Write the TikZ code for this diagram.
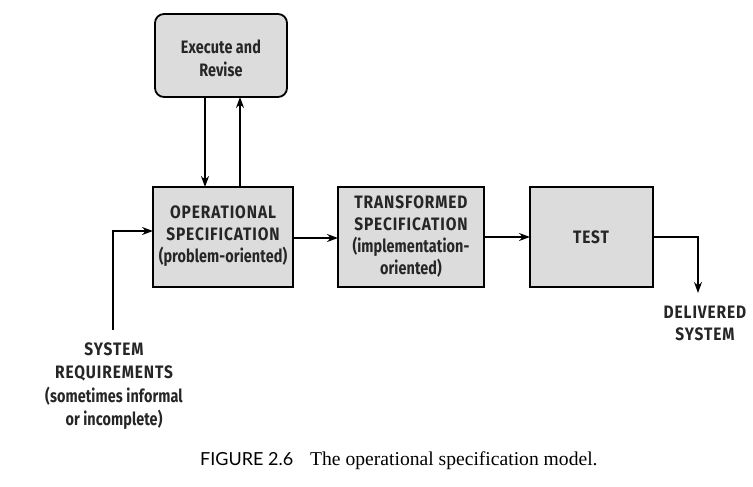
\documentclass[tikz,border=0pt]{standalone}
\usepackage{fontspec}
\setmainfont{Liberation Serif}
\newfontfamily\handfont[FakeStretch=0.86,LetterSpace=5]{Fira Sans}
\newfontfamily\lowfont[FakeStretch=0.8,LetterSpace=0.5]{Fira Sans}
\newfontfamily\capfont{Lato}
\usetikzlibrary{arrows.meta}
\definecolor{boxgray}{HTML}{DCDCDC}
\begin{document}
\begin{tikzpicture}[x=1pt,y=-1pt,
  box/.style={draw=black,line width=1.8pt,fill=boxgray,inner sep=0pt},
  lbl/.style={font=\handfont\bfseries\fontsize{18}{22}\selectfont,align=center,text=black!85},
  conn/.style={line width=1.6pt,-{Stealth[length=11pt,width=8pt]}}]
\useasboundingbox (0,0) rectangle (753,487);
% boxes
\draw[box,rounded corners=9pt] (155,14) rectangle (287,97);
\node[lbl,font=\lowfont\bfseries\fontsize{18}{23}\selectfont] (exec) at (221,58) {Execute and\\Revise};
\draw[box] (153,187) rectangle (293,287);
\node[lbl] (op) at (223,236) {OPERATIONAL\\SPECIFICATION\\{\lowfont\bfseries(problem-oriented)}};
\draw[box] (338,187) rectangle (484,287);
\node[lbl] (tr) at (411,237) {TRANSFORMED\\SPECIFICATION\\{\lowfont\bfseries(implementation-}\\{\lowfont\bfseries oriented)}};
\draw[box] (530,187) rectangle (653,287);
\node[lbl] (test) at (591,237) {TEST};
% coordinates for connectors
\coordinate (e1) at (205,97); \coordinate (o1) at (205,187);
\coordinate (e2) at (240,97); \coordinate (o2) at (240,187);
\coordinate (opR) at (293,238); \coordinate (trL) at (338,238);
\coordinate (trR) at (484,237); \coordinate (teL) at (530,237);
\coordinate (teR) at (653,237); \coordinate (delT) at (698,293);
\coordinate (sysT) at (113,330); \coordinate (opL) at (153,231);
\draw[conn] (e1) -- (o1);
\draw[conn] (o2) -- (e2);
\draw[conn] (opR) -- (trL);
\draw[conn] (trR) -- (teL);
\draw[conn] (teR) -| (delT);
\draw[conn] (sysT) |- (opL);
% labels
\node[lbl] (del) at (705,323) {DELIVERED\\SYSTEM};
\node[lbl,font=\handfont\bfseries\fontsize{18}{23.5}\selectfont] (sys) at (114,386) {SYSTEM\\REQUIREMENTS\\{\lowfont\bfseries(sometimes informal}\\{\lowfont\bfseries or incomplete)}};
% caption
\node[anchor=base west,inner sep=0pt] (cap) at (200,465) {{\capfont\fontsize{18}{20}\selectfont FIGURE 2.6}\hspace{17pt}{\fontsize{19.6}{20}\selectfont The operational specification model.}};
\end{tikzpicture}
\end{document}
